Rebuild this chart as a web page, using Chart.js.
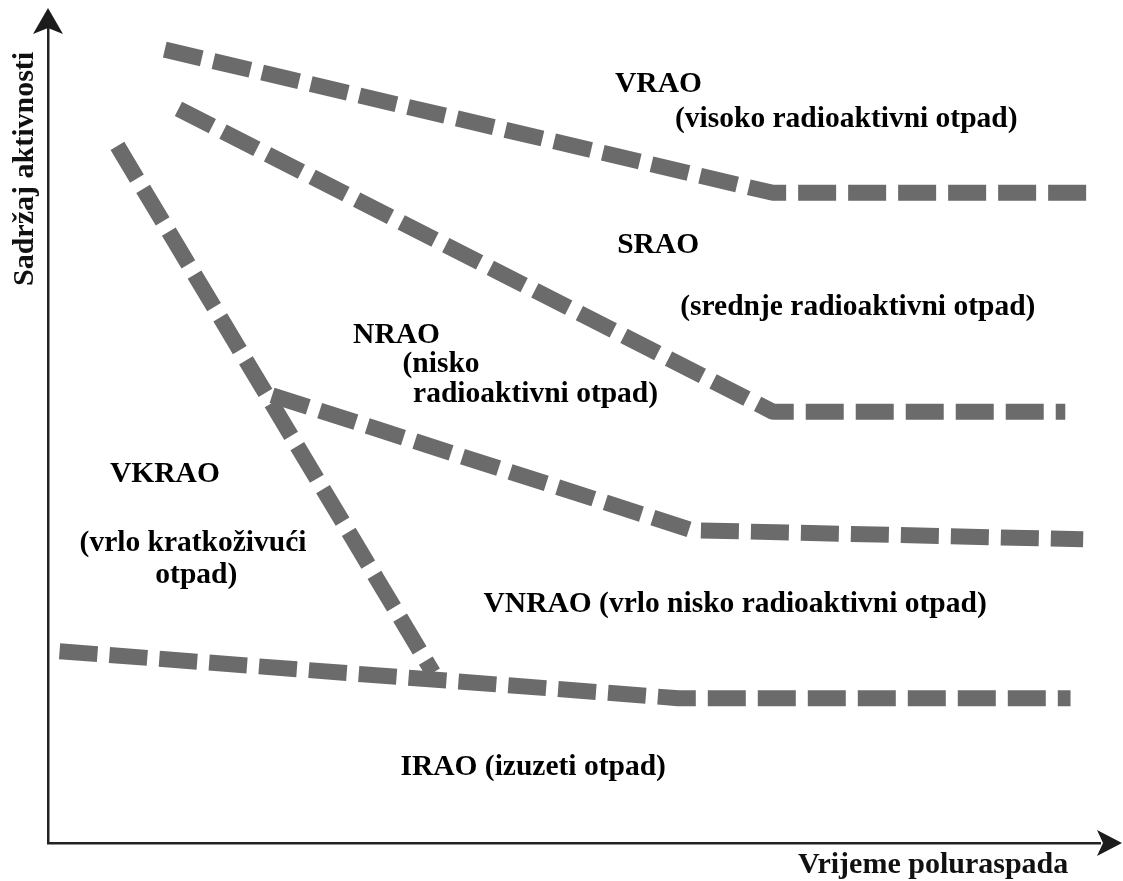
<!DOCTYPE html>
<html>
<head>
<meta charset="utf-8">
<script src="https://cdn.jsdelivr.net/npm/chart.js@4/dist/chart.umd.min.js"></script>
<style>
  html, body { margin: 0; padding: 0; background: #ffffff; }
  #wrap { width: 1123px; height: 881px; }
</style>
</head>
<body>
<div id="wrap"><canvas id="c" width="1123" height="881"></canvas></div>
<script>
// Boundary lines between waste classes (x: half-life, y: activity content), in relative units 0-100
const vraoX  = [11.1, 68.9, 98.8];
const vraoY  = [96.4, 79.0, 79.0];
const sraoX  = [12.4, 68.9, 96.7];
const sraoY  = [89.2, 52.4, 52.4];
const vkraoX = [6.6, 36.6];
const vkraoY = [84.7, 20.7];
const nraoX  = [21.3, 61.2, 98.4];
const nraoY  = [54.4, 38.0, 36.9];
const iraoX  = [1.1, 59.9, 97.2];
const iraoY  = [23.3, 17.6, 17.6];

// Axis titles
const xTitle = 'Vrijeme poluraspada';
const yTitle = 'Sadržaj aktivnosti';

// Region labels (text + anchor in data units)
const labelTexts = [
  'VRAO', '(visoko radioaktivni otpad)',
  'SRAO', '(srednje radioaktivni otpad)',
  'NRAO', '(nisko', 'radioaktivni otpad)',
  'VKRAO', '(vrlo kratkoživući', 'otpad)',
  'VNRAO (vrlo nisko radioaktivni otpad)',
  'IRAO (izuzeti otpad)'
];
const labelX = [53.9, 59.6, 54.1, 60.1, 29.0, 33.7, 34.7, 5.9, 3.0, 10.2, 41.4, 33.5];
const labelY = [91.3, 87.0, 71.7, 64.2, 60.8, 57.2, 53.6, 43.9, 35.5, 31.6, 28.1, 8.3];

const pts = (xs, ys) => xs.map((x, i) => ({ x: x, y: ys[i] }));

const lineStyle = {
  showLine: true,
  borderColor: '#6b6b6b',
  backgroundColor: '#6b6b6b',
  borderWidth: 16,
  borderDash: [38, 12],
  borderCapStyle: 'butt',
  borderJoinStyle: 'bevel',
  pointRadius: 0,
  pointHoverRadius: 0,
  fill: false,
  tension: 0,
  clip: false
};

const FONT = '"Liberation Serif", "Times New Roman", serif';

const decorPlugin = {
  id: 'decor',
  afterDatasetsDraw(chart) {
    const ctx = chart.ctx;
    const a = chart.chartArea;
    const xs = chart.scales.x, ys = chart.scales.y;
    ctx.save();
    // arrow heads
    ctx.fillStyle = '#1c1c1c';
    // y arrow
    ctx.beginPath();
    ctx.moveTo(a.left, 8);
    ctx.lineTo(a.left + 15, 34);
    ctx.lineTo(a.left, 28);
    ctx.lineTo(a.left - 15, 34);
    ctx.closePath();
    ctx.fill();
    // x arrow
    ctx.beginPath();
    ctx.moveTo(1122, a.bottom);
    ctx.lineTo(1097, a.bottom - 13);
    ctx.lineTo(1103, a.bottom);
    ctx.lineTo(1097, a.bottom + 13);
    ctx.closePath();
    ctx.fill();

    // region labels
    ctx.fillStyle = '#000000';
    ctx.font = 'bold 29.5px ' + FONT;
    ctx.textBaseline = 'alphabetic';
    ctx.textAlign = 'left';
    labelTexts.forEach((t, i) => {
      ctx.fillText(t, xs.getPixelForValue(labelX[i]), ys.getPixelForValue(labelY[i]));
    });

    // axis titles
    ctx.fillStyle = '#111111';
    ctx.font = 'bold 30px ' + FONT;
    ctx.fillText(xTitle, 798, 873);
    ctx.translate(33, 286);
    ctx.rotate(-Math.PI / 2);
    ctx.fillText(yTitle, 0, 0);
    ctx.restore();
  }
};

new Chart(document.getElementById('c'), {
  type: 'scatter',
  data: {
    datasets: [
      Object.assign({ label: 'VRAO / SRAO', data: pts(vraoX, vraoY) }, lineStyle),
      Object.assign({ label: 'SRAO / NRAO', data: pts(sraoX, sraoY) }, lineStyle),
      Object.assign({ label: 'VKRAO', data: pts(vkraoX, vkraoY) }, lineStyle),
      Object.assign({ label: 'NRAO / VNRAO', data: pts(nraoX, nraoY) }, lineStyle),
      Object.assign({ label: 'VNRAO / IRAO', data: pts(iraoX, iraoY) }, lineStyle)
    ]
  },
  options: {
    responsive: false,
    animation: false,
    events: [],
    layout: { padding: { left: 48, top: 20, right: 23, bottom: 38 } },
    plugins: {
      legend: { display: false },
      tooltip: { enabled: false },
      title: { display: false }
    },
    scales: {
      x: {
        type: 'linear', min: 0, max: 100,
        grid: { display: false, drawTicks: false },
        ticks: { display: false },
        border: { display: true, color: '#222222', width: 2.5 }
      },
      y: {
        type: 'linear', min: 0, max: 100,
        grid: { display: false, drawTicks: false },
        ticks: { display: false },
        border: { display: true, color: '#222222', width: 2.5 }
      }
    }
  },
  plugins: [decorPlugin]
});
</script>
</body>
</html>
